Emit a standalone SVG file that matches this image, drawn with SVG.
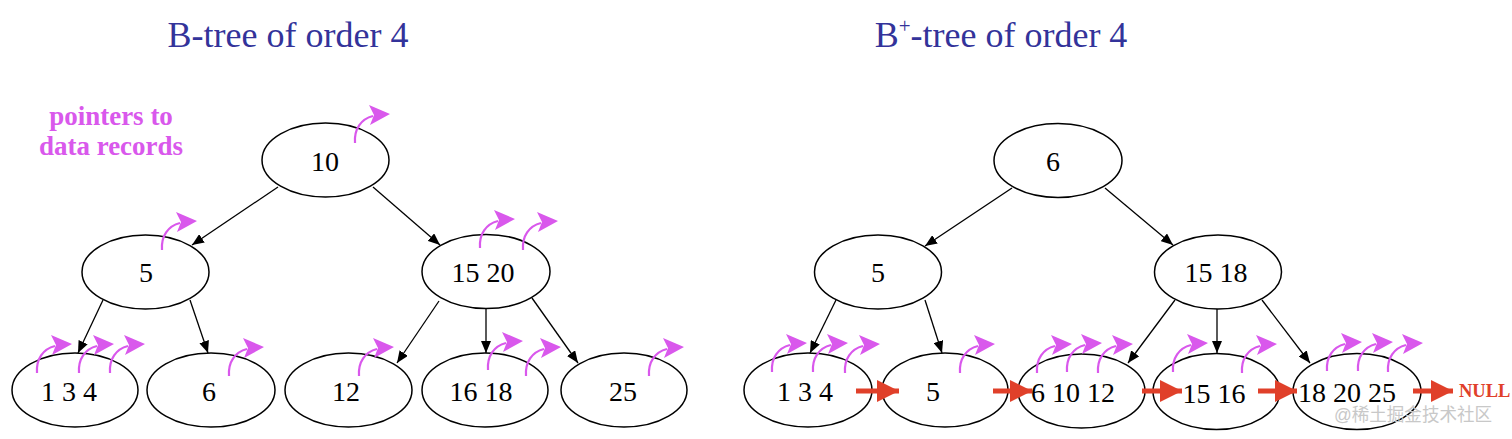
<svg xmlns="http://www.w3.org/2000/svg" xmlns:xlink="http://www.w3.org/1999/xlink" width="1512" height="439" viewBox="0 0 1512 439">
<style>
.nd{fill:#fff;stroke:#000;stroke-width:1.5}
.nt{font-family:"Liberation Serif","Times New Roman",serif;font-size:28px;fill:#000;text-anchor:middle}
.ttl{font-family:"Liberation Serif","Times New Roman",serif;font-size:36px;fill:#33339a;text-anchor:middle}
.lbl{font-family:"Liberation Serif","Times New Roman",serif;font-size:27px;font-weight:bold;fill:#d958ec;text-anchor:middle}
.null{font-family:"Liberation Serif","Times New Roman",serif;font-size:18.5px;font-weight:bold;fill:#e0402a}
.edge{stroke:#000;stroke-width:1.3;fill:none;marker-end:url(#ah)}
.link{stroke:#e0402a;stroke-width:5;fill:none;marker-end:url(#rh)}
.wm{font-family:"Liberation Sans","Noto Sans CJK SC",sans-serif;font-size:18px;fill:#c8c8c8}
</style>
<defs>
<marker id="ah" markerUnits="userSpaceOnUse" markerWidth="13" markerHeight="10" refX="12" refY="5" orient="auto"><path d="M0,0 L12,5 L0,10 Z" fill="#000"/></marker>
<marker id="rh" markerUnits="userSpaceOnUse" markerWidth="23" markerHeight="24" refX="22" refY="12" orient="auto"><path d="M0,1 L22,12 L0,23 Z" fill="#e0402a"/></marker>
<g id="ptr"><path d="M0,0 C-1,-14 6,-24 18,-27" fill="none" stroke="#d958ec" stroke-width="2.2"/><path d="M35,-29 L14,-38 L19,-28 L15,-18 Z" fill="#d958ec"/></g>
</defs>
<rect width="1512" height="439" fill="#fff"/>

<text class="ttl" x="288" y="47">B-tree of order 4</text>
<text class="ttl" x="1001" y="47">B<tspan font-size="21" dy="-14">+</tspan><tspan dy="14">-tree of order 4</tspan></text>
<text class="lbl" x="111" y="125">pointers to</text>
<text class="lbl" x="111" y="155">data records</text>

<g id="b-root"><ellipse class="nd" cx="325.5" cy="160" rx="63.5" ry="37"/><text class="nt" x="325" y="171">10</text><use xlink:href="#ptr" x="355" y="143"/></g>
<g id="b-n5"><ellipse class="nd" cx="145.5" cy="272" rx="63.5" ry="37"/><text class="nt" x="146" y="282">5</text><use xlink:href="#ptr" x="162" y="250"/></g>
<g id="b-n1520"><ellipse class="nd" cx="486" cy="271.5" rx="64" ry="37"/><text class="nt" x="483" y="282">15 20</text><use xlink:href="#ptr" x="480" y="248"/><use xlink:href="#ptr" x="523" y="250"/></g>
<g id="b-l134"><ellipse class="nd" cx="75" cy="390" rx="63" ry="37"/><text class="nt" x="69" y="401">1 3 4</text><use xlink:href="#ptr" x="37" y="373"/><use xlink:href="#ptr" x="79" y="373"/><use xlink:href="#ptr" x="110" y="373"/></g>
<g id="b-l6"><ellipse class="nd" cx="211" cy="390" rx="64" ry="37"/><text class="nt" x="209" y="401">6</text><use xlink:href="#ptr" x="229" y="376"/></g>
<g id="b-l12"><ellipse class="nd" cx="348.5" cy="390" rx="63.5" ry="37"/><text class="nt" x="346" y="401">12</text><use xlink:href="#ptr" x="359" y="376"/></g>
<g id="b-l1618"><ellipse class="nd" cx="485" cy="390" rx="63" ry="37"/><text class="nt" x="481" y="401">16 18</text><use xlink:href="#ptr" x="488" y="370"/><use xlink:href="#ptr" x="526" y="376"/></g>
<g id="b-l25"><ellipse class="nd" cx="624" cy="390" rx="63" ry="37"/><text class="nt" x="623" y="401">25</text><use xlink:href="#ptr" x="649" y="376"/></g>

<g id="p-root"><ellipse class="nd" cx="1058" cy="160.5" rx="64" ry="37"/><text class="nt" x="1053" y="171">6</text></g>
<g id="p-n5"><ellipse class="nd" cx="878" cy="272" rx="63.5" ry="37"/><text class="nt" x="878" y="282">5</text></g>
<g id="p-n1518"><ellipse class="nd" cx="1218" cy="272" rx="63.5" ry="37"/><text class="nt" x="1216" y="282">15 18</text></g>
<g id="p-l134"><ellipse class="nd" cx="808" cy="390" rx="64" ry="37"/><text class="nt" x="805" y="401">1 3 4</text><use xlink:href="#ptr" x="772" y="372"/><use xlink:href="#ptr" x="813" y="372"/><use xlink:href="#ptr" x="845" y="373"/></g>
<g id="p-l5"><ellipse class="nd" cx="945" cy="390" rx="63" ry="37"/><text class="nt" x="933" y="401">5</text><use xlink:href="#ptr" x="960" y="373"/></g>
<g id="p-l61012"><ellipse class="nd" cx="1081.5" cy="391" rx="63.5" ry="37"/><text class="nt" x="1073" y="402">6 10 12</text><use xlink:href="#ptr" x="1037" y="373"/><use xlink:href="#ptr" x="1067" y="372"/><use xlink:href="#ptr" x="1098" y="373"/></g>
<g id="p-l1516"><ellipse class="nd" cx="1216.5" cy="391.5" rx="63.5" ry="38"/><text class="nt" x="1214" y="403">15 16</text><use xlink:href="#ptr" x="1173" y="372"/><use xlink:href="#ptr" x="1242" y="373"/></g>
<g id="p-l182025"><ellipse class="nd" cx="1357" cy="391.5" rx="64" ry="38"/><text class="nt" x="1347" y="402">18 20 25</text><use xlink:href="#ptr" x="1327" y="371"/><use xlink:href="#ptr" x="1358" y="371"/><use xlink:href="#ptr" x="1388" y="372"/></g>
<text class="null" x="1459" y="397">NULL</text>

<g id="connectors">
<line class="edge" x1="278" y1="187" x2="192" y2="245"/>
<line class="edge" x1="373" y1="187" x2="440" y2="245"/>
<line class="edge" x1="103" y1="300" x2="78" y2="353"/>
<line class="edge" x1="190" y1="300" x2="208" y2="353"/>
<line class="edge" x1="439" y1="301" x2="397" y2="363"/>
<line class="edge" x1="486" y1="308" x2="486" y2="353"/>
<line class="edge" x1="532" y1="298" x2="578" y2="363"/>
<line class="edge" x1="1012" y1="188" x2="925" y2="246"/>
<line class="edge" x1="1105" y1="188" x2="1173" y2="245"/>
<line class="edge" x1="836" y1="300" x2="810" y2="353"/>
<line class="edge" x1="925" y1="300" x2="942" y2="353"/>
<line class="edge" x1="1175" y1="300" x2="1128" y2="363"/>
<line class="edge" x1="1217" y1="309" x2="1217" y2="353"/>
<line class="edge" x1="1262" y1="300" x2="1310" y2="363"/>
<line class="link" x1="856" y1="391" x2="899" y2="391"/>
<line class="link" x1="993" y1="391" x2="1032" y2="391"/>
<line class="link" x1="1142" y1="391" x2="1182" y2="391"/>
<line class="link" x1="1258" y1="391" x2="1297" y2="391"/>
<line class="link" x1="1413" y1="391" x2="1453" y2="391"/>
</g>
<text class="wm" x="1334" y="421" textLength="158" lengthAdjust="spacingAndGlyphs">@稀土掘金技术社区</text>
</svg>
